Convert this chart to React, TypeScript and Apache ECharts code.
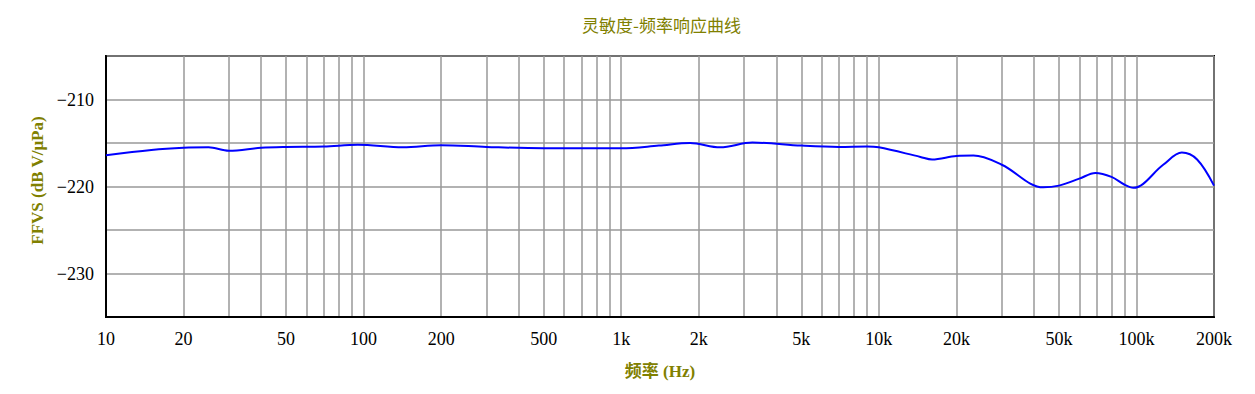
import React, { useEffect, useRef } from "react";
import * as echarts from "echarts";

const freqs = [10, 15, 20, 25, 30, 40, 50, 70, 95, 142, 200, 300, 500, 1000, 1400, 1850, 2420, 3230, 5000, 7000, 9000, 10000, 14500, 16100, 20000, 23300, 30000, 43500, 50000, 60000, 69300, 80000, 90000, 97300, 127000, 150000, 172000, 200000];
const ffvs = [-216.4, -215.8, -215.55, -215.5, -215.9, -215.55, -215.45, -215.4, -215.2, -215.5, -215.25, -215.45, -215.6, -215.6, -215.3, -215.0, -215.5, -214.95, -215.3, -215.45, -215.4, -215.5, -216.6, -216.9, -216.5, -216.45, -217.5, -220.1, -219.9, -219.1, -218.45, -218.9, -219.8, -220.15, -217.5, -216.1, -216.9, -219.9];
const gridFreqs = [10, 20, 30, 40, 50, 60, 70, 80, 90, 100, 200, 300, 400, 500, 600, 700, 800, 900, 1000, 2000, 3000, 4000, 5000, 6000, 7000, 8000, 9000, 10000, 20000, 30000, 40000, 50000, 60000, 70000, 80000, 90000, 100000, 200000];
const labelFreqs = [10, 20, 50, 100, 200, 500, 1000, 2000, 5000, 10000, 20000, 50000, 100000, 200000];
const yLabels = [-210, -220, -230];

const olive = "#808000";

export default function App() {
  const ref = useRef<HTMLDivElement>(null);
  useEffect(() => {
    if (!ref.current) return;
    const chart = echarts.init(ref.current, null, { renderer: "svg" });
    chart.setOption({
      animation: false,
      backgroundColor: "#ffffff",
      title: {
        text: "灵敏度-频率响应曲线",
        left: 577,
        top: 11,
        textStyle: { color: olive, fontSize: 17, fontWeight: "normal", fontFamily: "Noto Sans CJK SC" },
      },
      grid: { left: 106, right: 41, top: 56, bottom: 77, show: true, borderColor: "#000", borderWidth: 2, backgroundColor: "transparent" },
      xAxis: {
        type: "log",
        logBase: 10,
        min: 10,
        max: 200000,
        name: "频率 (Hz)",
        nameLocation: "middle",
        nameGap: 46,
        nameTextStyle: { color: olive, fontSize: 17, fontWeight: "bold", fontFamily: "Liberation Serif, Noto Sans CJK SC" },
        axisLine: { show: true, lineStyle: { color: "#000", width: 2 } },
        axisTick: { show: false, customValues: gridFreqs },
        axisLabel: {
          customValues: labelFreqs,
          color: "#000",
          fontSize: 18,
          fontFamily: "Liberation Serif",
          margin: 13,
          formatter: (v: number) => (v >= 1000 ? `${Math.round(v / 1000)}k` : `${Math.round(v)}`),
        },
        splitLine: { show: true, lineStyle: { color: "#999", width: 1.5 } },
      },
      yAxis: {
        type: "value",
        min: -235,
        max: -205,
        interval: 5,
        name: "FFVS (dB V/μPa)",
        nameLocation: "middle",
        nameGap: 58,
        nameRotate: 90,
        nameTextStyle: { color: olive, fontSize: 17, fontWeight: "bold", fontFamily: "Liberation Serif", padding: [0, 0, 0, 12] },
        axisLine: { show: true, lineStyle: { color: "#000", width: 2 } },
        axisTick: { show: false },
        axisLabel: {
          color: "#000",
          fontSize: 18,
          fontFamily: "Liberation Serif",
          margin: 12,
          formatter: (v: number) => (yLabels.includes(v) ? `\u2212${Math.abs(v)}` : ""),
        },
        splitLine: { show: true, lineStyle: { color: "#999", width: 1.5 } },
      },
      series: [
        {
          type: "line",
          data: freqs.map((f, i) => [f, ffvs[i]]),
          smooth: 0.35,
          showSymbol: false,
          lineStyle: { color: "#0000ff", width: 2 },
          z: 5,
        },
      ],
    });
    return () => chart.dispose();
  }, []);
  return <div ref={ref} style={{ position: "fixed", left: 0, top: 0, width: 1255, height: 394 }} />;
}
